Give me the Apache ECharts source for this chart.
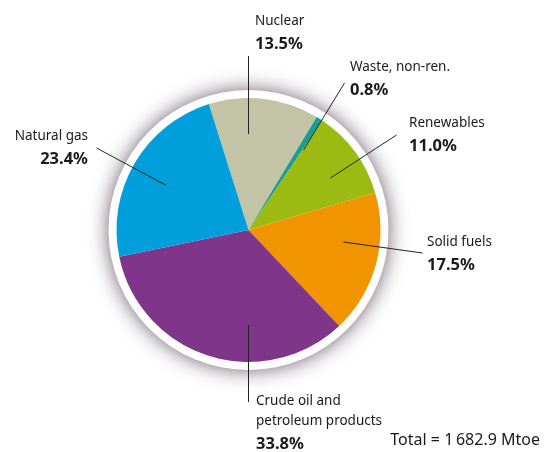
<!DOCTYPE html>
<html>
<head>
<meta charset="utf-8">
<script src="https://cdn.jsdelivr.net/npm/echarts@6/dist/echarts.min.js"></script>
<style>
  html, body { margin: 0; padding: 0; background: #fff; }
  #chart { width: 552px; height: 452px; }
</style>
</head>
<body>
<div id="chart"></div>
<script>
// data (share of gross inland consumption, %)
const names = [
  "Nuclear",
  "Waste, non-ren.",
  "Renewables",
  "Solid fuels",
  "Crude oil and\npetroleum products",
  "Natural gas",
];
const shares = [13.5, 0.8, 11.0, 17.5, 33.8, 23.4];
const colors = ["#c3c3a6", "#1a9c95", "#9cbb12", "#f29400", "#7f358a", "#009edb"];
const totalLabel = "Total = 1\u2009682.9 Mtoe";

// label placement (pixels relative to pie centre)
const cx = 248.5, cy = 230, R = 132;
const leaderFrom = [[0, -96], [55, -80], [82, -52], [95, 12], [0, 95], [-83, -45]];
const leaderTo = [[0, -174], [96, -147], [148, -95], [174, 23], [0, 172], [-152, -82]];
const labelAt = [[255, 11, "left"], [350, 57, "left"], [409, 113, "left"], [427, 232, "left"], [256, 391, "left"], [88, 126, "right"]];

const chart = echarts.init(document.getElementById("chart"));

// leader lines drawn above the sectors
const leaders = leaderFrom.map((a, i) => ({
  type: "line",
  silent: true,
  z: 100,
  shape: { x1: cx + a[0], y1: cy + a[1], x2: cx + leaderTo[i][0], y2: cy + leaderTo[i][1] },
  style: { stroke: "#222", lineWidth: 1 },
}));

chart.setOption({
  animation: false,
  textStyle: { fontFamily: "Noto Sans" },
  graphic: leaders.concat([
    {
      type: "text",
      right: 12,
      top: 432,
      style: { text: totalLabel, font: "16px 'Noto Sans'", fill: "#1a1a1a" },
    },
  ]),
  series: [
    {
      // white rim with soft shadow
      type: "pie",
      silent: true,
      center: [cx, cy],
      radius: [0, R + 8],
      label: { show: false },
      labelLine: { show: false },
      itemStyle: {
        color: "#fff",
        shadowBlur: 20,
        shadowColor: "rgba(60,40,60,0.75)",
      },
      data: [{ value: 1, name: "rim" }],
      z: 1,
    },
    {
      type: "pie",
      center: [cx, cy],
      radius: [0, R],
      startAngle: 107.5,
      clockwise: true,
      color: colors,
      itemStyle: { borderWidth: 0 },
      label: {
        show: true,
        position: "outside",
        color: "#1a1a1a",
        formatter: (p) => {
          const lines = p.name.split("\n").map((t) => "{n|" + t + "}");
          return lines.join("\n") + "\n{p|" + p.value.toFixed(1) + "%}";
        },
        rich: {
          n: { fontSize: 13.5, lineHeight: 20, color: "#1a1a1a", fontFamily: "Noto Sans" },
          p: { fontSize: 16.5, lineHeight: 26, fontWeight: "bold", color: "#1a1a1a", fontFamily: "Noto Sans" },
        },
      },
      labelLine: { show: false },
      labelLayout: (params) => {
        const l = labelAt[params.dataIndex];
        return { x: l[0], y: l[1], align: l[2], verticalAlign: "top" };
      },
      data: names.map((n, i) => ({ name: n, value: shares[i] })),
      z: 2,
    },
  ],
});
</script>
</body>
</html>
